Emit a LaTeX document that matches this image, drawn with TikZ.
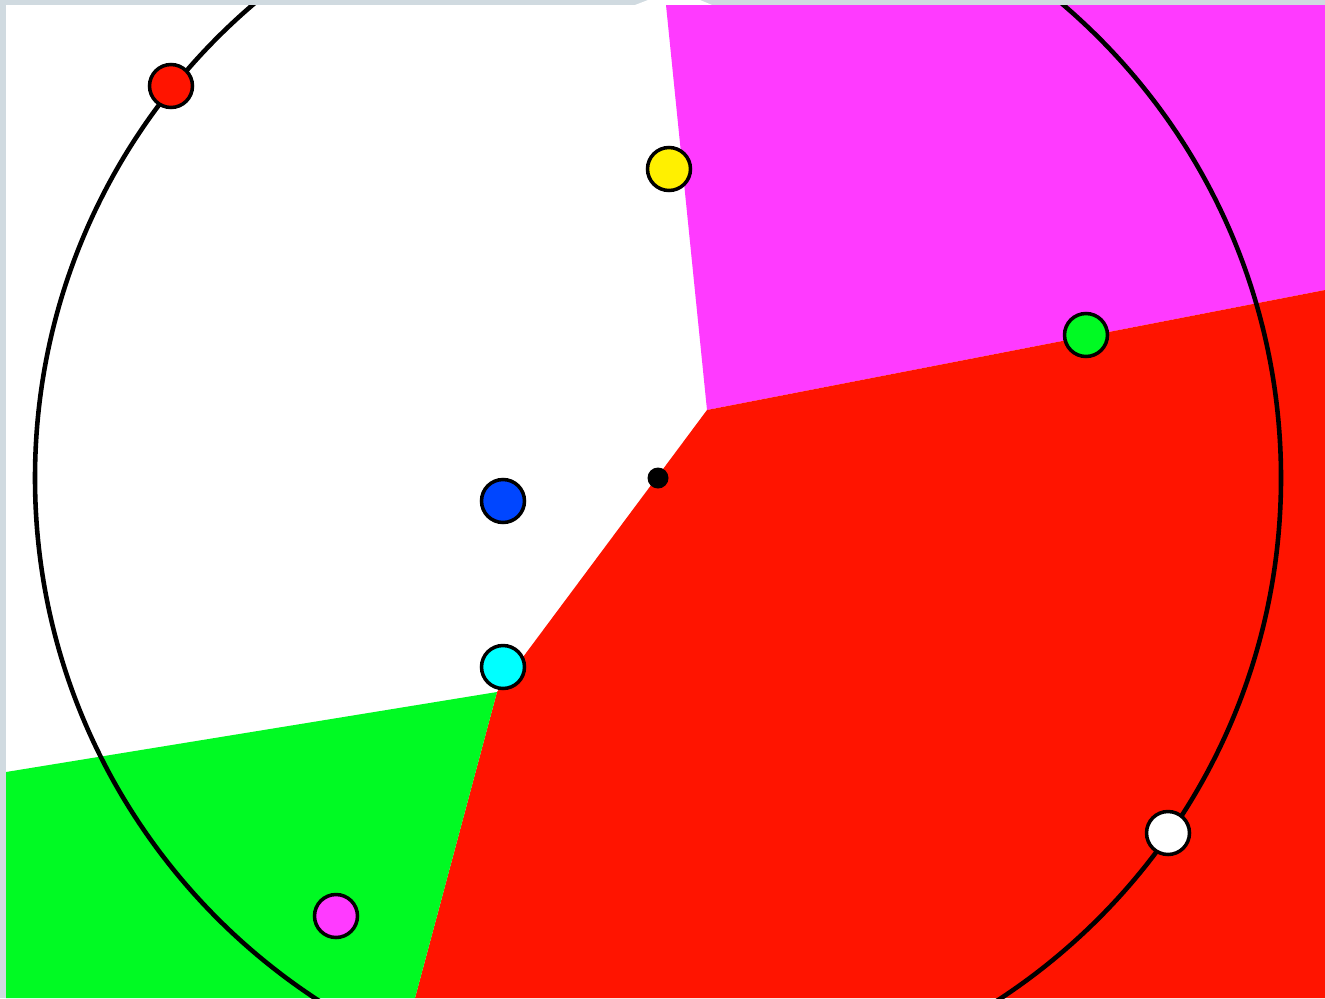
\documentclass[tikz,border=0pt]{standalone}
\usepackage{tikz}

\definecolor{frame}{RGB}{208,218,224}
\definecolor{cellred}{RGB}{255,20,0}
\definecolor{cellmag}{RGB}{255,58,255}
\definecolor{cellgreen}{RGB}{0,250,35}
\definecolor{siteblue}{RGB}{0,70,255}
\definecolor{sitecyan}{RGB}{0,255,255}
\definecolor{siteyellow}{RGB}{255,240,0}

\tikzset{
    site/.style={circle, draw=black, line width=2pt, minimum size=0.86cm, inner sep=0pt},
    centre/.style={circle, fill=black, minimum size=0.42cm, inner sep=0pt}
}

\begin{document}
\begin{tikzpicture}[x=0.02cm, y=-0.02cm]
    \useasboundingbox (0,0) rectangle (1325,998);
    \fill[frame] (0,0) rectangle (1325,998);
    \fill[white] (6,5) rectangle (1325,998);
    \fill[white] (635,5) -- (648,0) -- (700,0) -- (712,5) -- cycle;

    % cells
    \fill[cellmag] (666,5) -- (1325,5) -- (1325,290) -- (707,410) -- cycle;
    \fill[cellred] (707,410) -- (1325,290) -- (1325,998) -- (415,998) -- (497,692) -- cycle;
    \fill[cellgreen] (6,772) -- (497,692) -- (415,998) -- (6,998) -- cycle;

    % big circle
    \begin{scope}
    \clip (6,5) rectangle (1325,998);
    \draw[line width=2.6pt] (658,478) circle[radius=623];
    \end{scope}

    \node[centre] (o) at (658,478) {};
    \node[site, fill=cellred] (r) at (171,86) {};
    \node[site, fill=siteyellow] (y) at (669,169) {};
    \node[site, fill=cellgreen] (g) at (1086,335) {};
    \node[site, fill=siteblue] (b) at (503,501) {};
    \node[site, fill=sitecyan] (c) at (503,667) {};
    \node[site, fill=cellmag] (m) at (336,916) {};
    \node[site, fill=white] (w) at (1168,833) {};
\end{tikzpicture}
\end{document}
